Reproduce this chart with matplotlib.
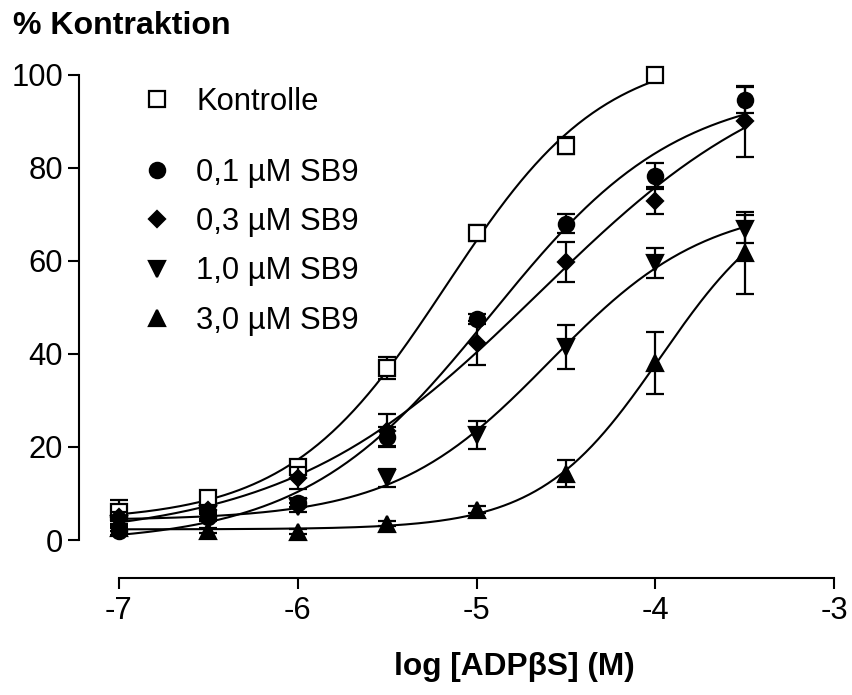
import numpy as np
import matplotlib
matplotlib.use("Agg")
import matplotlib.pyplot as plt
from matplotlib.lines import Line2D

plt.rcParams["font.family"] = ["Liberation Sans", "DejaVu Sans"]
plt.rcParams["axes.unicode_minus"] = False

# log Konzentration ADPbetaS
log_conc = [-7.0, -6.5, -6.0, -5.5, -5.0, -4.5, -4.0, -3.5]

# Mittelwerte (% Kontraktion) und Fehler
kontrolle = [6.0, 9.0, 15.6, 37.0, 66.0, 84.8, 100.0]
kontrolle_err = [2.6, 0.8, 0.8, 2.3, 1.8, 1.8, 0.8]

sb9_01 = [2.0, 5.0, 8.0, 22.2, 47.5, 68.0, 78.3, 94.6]
sb9_01_err = [1.0, 1.0, 1.0, 2.0, 1.0, 2.0, 2.8, 2.8]

sb9_03 = [5.0, 6.5, 13.3, 23.5, 42.3, 59.7, 73.0, 90.0]
sb9_03_err = [1.0, 1.0, 2.3, 3.6, 4.7, 4.3, 3.0, 7.6]

sb9_10 = [3.5, 5.5, 7.0, 13.3, 22.5, 41.5, 59.5, 66.8]
sb9_10_err = [1.0, 1.0, 1.0, 2.0, 3.0, 4.8, 3.2, 3.0]

sb9_30 = [2.5, 2.0, 1.8, 3.5, 6.5, 14.3, 38.0, 61.7]
sb9_30_err = [0.5, 0.5, 0.5, 0.5, 0.8, 2.8, 6.7, 8.8]

labels = ["Kontrolle", "0,1 µM SB9", "0,3 µM SB9", "1,0 µM SB9", "3,0 µM SB9"]
markers = ["s", "o", "D", "v", "^"]

FS = 22.3


def fit_4pl(x, y):
    # Gittersuche ueber logEC50 und Hill, Bottom/Top linear geloest
    x = np.asarray(x)
    y = np.asarray(y)
    ec = np.linspace(-7.0, -2.5, 451)[:, None, None]
    h = np.linspace(0.3, 2.5, 221)[None, :, None]
    s = 1.0 / (1.0 + 10 ** ((ec - x) * h))
    sm = s.mean(axis=2, keepdims=True)
    ym = y.mean()
    var = ((s - sm) ** 2).sum(axis=2, keepdims=True)
    cov = ((s - sm) * (y - ym)).sum(axis=2, keepdims=True)
    slope = cov / np.where(var > 0, var, np.nan)
    icpt = ym - slope * sm
    sse = (((icpt + slope * s) - y) ** 2).sum(axis=2)
    i, j = np.unravel_index(np.nanargmin(sse), sse.shape)
    bottom = icpt[i, j, 0]
    span = slope[i, j, 0]
    return bottom, span, ec[i, 0, 0], h[0, j, 0]


fig = plt.figure(figsize=(8.52, 6.95), dpi=100)
ax = fig.add_axes([79 / 852, 117 / 695, 757 / 852, 0.7305])

series = [
    (kontrolle, kontrolle_err),
    (sb9_01, sb9_01_err),
    (sb9_03, sb9_03_err),
    (sb9_10, sb9_10_err),
    (sb9_30, sb9_30_err),
]

for k, (vals, errs) in enumerate(series):
    xs = log_conc[: len(vals)]
    b, span, ec50, hill = fit_4pl(xs, vals)
    xx = np.linspace(xs[0], xs[-1], 300)
    yy = b + span / (1 + 10 ** ((ec50 - xx) * hill))
    ax.plot(xx, yy, color="black", lw=1.5, zorder=2)
    face = "white" if k == 0 else "black"
    ms = 11 if markers[k] != "D" else 8
    ax.errorbar(xs, vals, yerr=errs, fmt=markers[k], ms=ms, mfc=face,
                mec="black", mew=1.6, ecolor="black", elinewidth=1.6,
                capsize=6.5, capthick=1.6, zorder=3 + k, clip_on=False)

ax.set_xlim(-7.223, -2.99)
ax.set_ylim(-8.17, 101)
ax.spines["top"].set_visible(False)
ax.spines["right"].set_visible(False)
ax.spines["left"].set_bounds(0, 100)
ax.spines["bottom"].set_bounds(-7, -3)
for sp in ("left", "bottom"):
    ax.spines[sp].set_linewidth(1.5)

ax.set_xticks([-7, -6, -5, -4, -3])
ax.set_yticks([0, 20, 40, 60, 80, 100])
ax.tick_params(axis="both", direction="out", length=8, width=1.5,
               labelsize=FS)
ax.tick_params(axis="y", pad=3.5)
ax.tick_params(axis="x", pad=5)

# Legende: Kontrolle getrennt vom Rest
def handle(m, face):
    ms = 11 if m != "D" else 8
    return Line2D([], [], ls="none", marker=m, ms=ms, mfc=face,
                  mec="black", mew=1.6)

leg1 = ax.legend([handle("s", "white")], [labels[0]], frameon=False,
                 loc="upper left", bbox_to_anchor=(142 / 852, 1 - 87 / 695),
                 bbox_transform=fig.transFigure, fontsize=FS,
                 handlelength=1.0, handletextpad=0.75, borderpad=0,
                 borderaxespad=0)
ax.add_artist(leg1)
ax.legend([handle(m, "black") for m in markers[1:]], labels[1:],
          frameon=False, loc="upper left",
          bbox_to_anchor=(142 / 852, 1 - 158 / 695),
          bbox_transform=fig.transFigure, fontsize=FS,
          handlelength=1.0, handletextpad=0.75, borderpad=0,
          borderaxespad=0, labelspacing=0.62)

fig.text(13 / 852, 1 - 26 / 695, "% Kontraktion", fontsize=FS + 0.8,
         fontweight="bold", ha="left", va="center")
fig.text(514 / 852, 1 - 667 / 695, "log [ADPβS] (M)", fontsize=FS + 0.5,
         fontweight="bold", ha="center", va="center")

fig.savefig("out.png", dpi=100)
